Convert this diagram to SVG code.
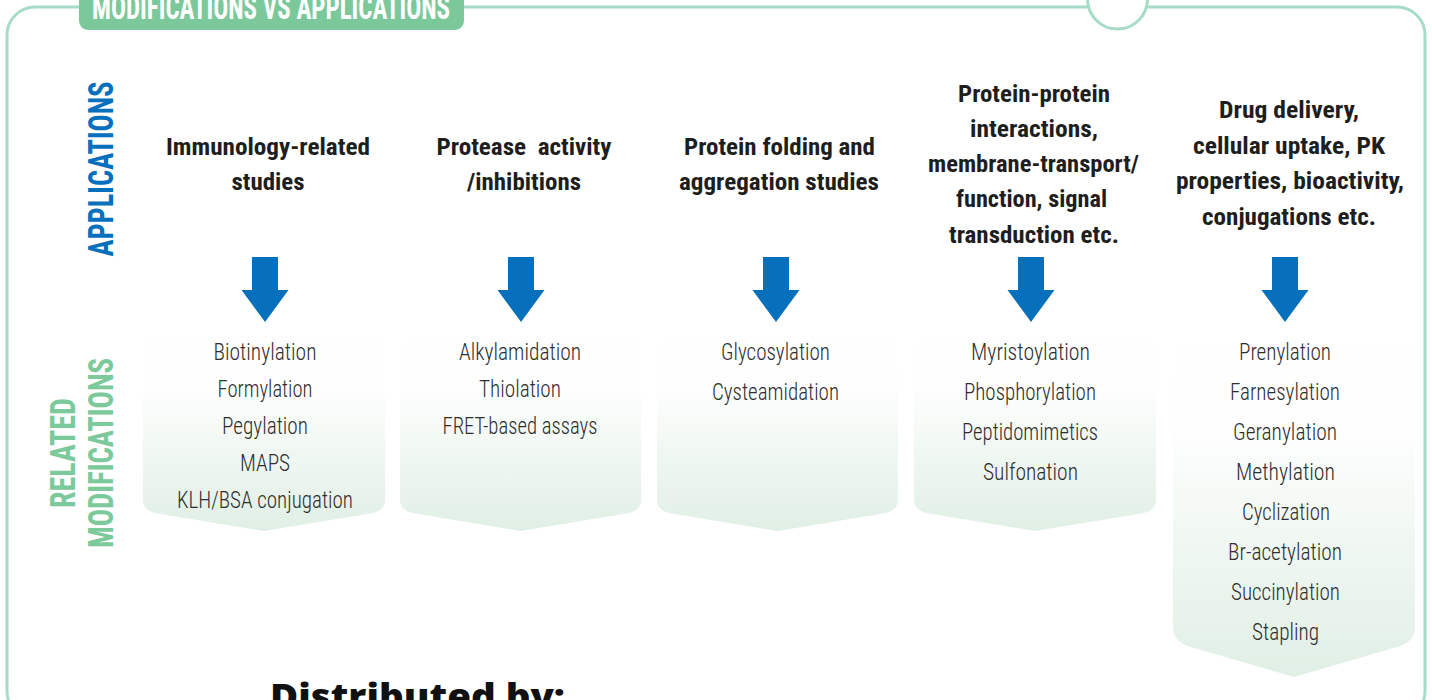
<svg xmlns="http://www.w3.org/2000/svg" width="1432" height="700" viewBox="0 0 1432 700">
<style>
.head{font-family:"Liberation Sans Narrow","Roboto Condensed","Liberation Sans",sans-serif;font-weight:bold;font-size:24px;fill:#1e1e1e;text-anchor:middle}
.item{font-family:"Liberation Sans Narrow","Roboto Condensed","Liberation Sans",sans-serif;font-weight:300;font-size:23px;fill:#2e2e2e;text-anchor:middle}
.vlab{font-family:"Liberation Sans Narrow","Roboto Condensed","Liberation Sans",sans-serif;font-weight:bold;font-size:35px;text-anchor:middle}
.box{fill:url(#boxg)}
.arrow{fill:#0670bd}
</style>
<defs>
<linearGradient id="boxg" x1="0" y1="0" x2="0" y2="1">
<stop offset="0" stop-color="#ffffff"/>
<stop offset="0.3" stop-color="#fdfefd"/>
<stop offset="1" stop-color="#e0efe5"/>
</linearGradient>
<path id="arr" d="M -13 257 H 13 V 290 H 23.5 L 0 322 L -23.5 290 H -13 Z"/>
</defs>
<rect width="1432" height="700" fill="#ffffff"/>
<g id="frame">
<rect x="7" y="7" width="1418" height="712" rx="28" fill="none" stroke="#a6dcc6" stroke-width="3"/>
<circle cx="1117.5" cy="-1" r="30" fill="#ffffff" stroke="#a6dcc6" stroke-width="3"/>
</g>
<g id="title">
<rect x="79" y="-12" width="385" height="42" rx="9" fill="#7bc89b"/>
<text x="271" y="19" font-family="'Liberation Sans Narrow','Roboto Condensed','Liberation Sans',sans-serif" font-weight="bold" font-size="33" fill="#ffffff" text-anchor="middle" textLength="358" lengthAdjust="spacingAndGlyphs">MODIFICATIONS VS APPLICATIONS</text>
</g>
<g id="side-labels">
<text class="vlab" fill="#0670bd" transform="translate(113,169) rotate(-90)" textLength="175" lengthAdjust="spacingAndGlyphs">APPLICATIONS</text>
<text class="vlab" fill="#7cc99b" transform="translate(75,453) rotate(-90)" textLength="110" lengthAdjust="spacingAndGlyphs">RELATED</text>
<text class="vlab" fill="#7cc99b" transform="translate(113,453) rotate(-90)" textLength="190" lengthAdjust="spacingAndGlyphs">MODIFICATIONS</text>
</g>
<g id="col1">
<path class="box" d="M 143 340 Q 143 330 153 330 H 375 Q 385 330 385 340 V 500 Q 385 512 367 514 L 264 531 L 161 514 Q 143 512 143 500 Z"/>
<text class="head" x="268" y="155" textLength="204" lengthAdjust="spacingAndGlyphs">Immunology-related</text>
<text class="head" x="268" y="190" textLength="73" lengthAdjust="spacingAndGlyphs">studies</text>
<text class="item" x="265" y="360" textLength="103" lengthAdjust="spacingAndGlyphs">Biotinylation</text>
<text class="item" x="265" y="397" textLength="95" lengthAdjust="spacingAndGlyphs">Formylation</text>
<text class="item" x="265" y="434" textLength="86" lengthAdjust="spacingAndGlyphs">Pegylation</text>
<text class="item" x="265" y="471" textLength="50" lengthAdjust="spacingAndGlyphs">MAPS</text>
<text class="item" x="265" y="508" textLength="176" lengthAdjust="spacingAndGlyphs">KLH/BSA conjugation</text>
</g>
<g id="col2">
<path class="box" d="M 400 340 Q 400 330 410 330 H 631 Q 641 330 641 340 V 500 Q 641 512 623 514 L 520.5 531 L 418 514 Q 400 512 400 500 Z"/>
<text class="head" x="524" y="155" textLength="175" lengthAdjust="spacingAndGlyphs" xml:space="preserve">Protease  activity</text>
<text class="head" x="524" y="190" textLength="114" lengthAdjust="spacingAndGlyphs">/inhibitions</text>
<text class="item" x="520" y="360" textLength="122" lengthAdjust="spacingAndGlyphs">Alkylamidation</text>
<text class="item" x="520" y="397" textLength="82" lengthAdjust="spacingAndGlyphs">Thiolation</text>
<text class="item" x="520" y="434" textLength="155" lengthAdjust="spacingAndGlyphs">FRET-based assays</text>
</g>
<g id="col3">
<path class="box" d="M 657 340 Q 657 330 667 330 H 888 Q 898 330 898 340 V 500 Q 898 512 880 514 L 777.5 531 L 675 514 Q 657 512 657 500 Z"/>
<text class="head" x="779.5" y="155" textLength="191" lengthAdjust="spacingAndGlyphs">Protein folding and</text>
<text class="head" x="779" y="190" textLength="200" lengthAdjust="spacingAndGlyphs">aggregation studies</text>
<text class="item" x="775.5" y="360" textLength="109" lengthAdjust="spacingAndGlyphs">Glycosylation</text>
<text class="item" x="775.5" y="400" textLength="127" lengthAdjust="spacingAndGlyphs">Cysteamidation</text>
</g>
<g id="col4">
<path class="box" d="M 914 340 Q 914 330 924 330 H 1146 Q 1156 330 1156 340 V 500 Q 1156 512 1138 514 L 1035 531 L 932 514 Q 914 512 914 500 Z"/>
<text class="head" x="1034" y="102" textLength="152" lengthAdjust="spacingAndGlyphs">Protein-protein</text>
<text class="head" x="1034" y="137" textLength="128" lengthAdjust="spacingAndGlyphs">interactions,</text>
<text class="head" x="1033.5" y="172" textLength="211" lengthAdjust="spacingAndGlyphs">membrane-transport/</text>
<text class="head" x="1031.5" y="207" textLength="151" lengthAdjust="spacingAndGlyphs">function, signal</text>
<text class="head" x="1034" y="243" textLength="170" lengthAdjust="spacingAndGlyphs">transduction etc.</text>
<text class="item" x="1030.5" y="360" textLength="119" lengthAdjust="spacingAndGlyphs">Myristoylation</text>
<text class="item" x="1030" y="400" textLength="132" lengthAdjust="spacingAndGlyphs">Phosphorylation</text>
<text class="item" x="1030" y="440" textLength="136" lengthAdjust="spacingAndGlyphs">Peptidomimetics</text>
<text class="item" x="1030.5" y="480" textLength="95" lengthAdjust="spacingAndGlyphs">Sulfonation</text>
</g>
<g id="col5">
<path class="box" d="M 1173 340 Q 1173 330 1183 330 H 1405 Q 1415 330 1415 340 V 627 Q 1415 642 1397 647 L 1294 677 L 1191 647 Q 1173 642 1173 627 Z"/>
<text class="head" x="1289" y="118" textLength="140" lengthAdjust="spacingAndGlyphs">Drug delivery,</text>
<text class="head" x="1289" y="154" textLength="192" lengthAdjust="spacingAndGlyphs">cellular uptake, PK</text>
<text class="head" x="1290" y="189" textLength="228" lengthAdjust="spacingAndGlyphs">properties, bioactivity,</text>
<text class="head" x="1289" y="225" textLength="174" lengthAdjust="spacingAndGlyphs">conjugations etc.</text>
<text class="item" x="1285" y="360" textLength="92" lengthAdjust="spacingAndGlyphs">Prenylation</text>
<text class="item" x="1285" y="400" textLength="110" lengthAdjust="spacingAndGlyphs">Farnesylation</text>
<text class="item" x="1285" y="440" textLength="104" lengthAdjust="spacingAndGlyphs">Geranylation</text>
<text class="item" x="1285.5" y="480" textLength="99" lengthAdjust="spacingAndGlyphs">Methylation</text>
<text class="item" x="1286" y="520" textLength="88" lengthAdjust="spacingAndGlyphs">Cyclization</text>
<text class="item" x="1285" y="560" textLength="114" lengthAdjust="spacingAndGlyphs">Br-acetylation</text>
<text class="item" x="1285.5" y="600" textLength="109" lengthAdjust="spacingAndGlyphs">Succinylation</text>
<text class="item" x="1285.5" y="640" textLength="67" lengthAdjust="spacingAndGlyphs">Stapling</text>
</g>
<g id="connectors">
<use href="#arr" class="arrow" x="265"/>
<use href="#arr" class="arrow" x="521"/>
<use href="#arr" class="arrow" x="776"/>
<use href="#arr" class="arrow" x="1031"/>
<use href="#arr" class="arrow" x="1285"/>
</g>
<g id="footer">
<text x="417.5" y="709" font-family="'Open Sans','Noto Sans',sans-serif" font-weight="800" font-size="36" fill="#111111" text-anchor="middle" textLength="295" lengthAdjust="spacingAndGlyphs">Distributed by:</text>
</g>
</svg>
